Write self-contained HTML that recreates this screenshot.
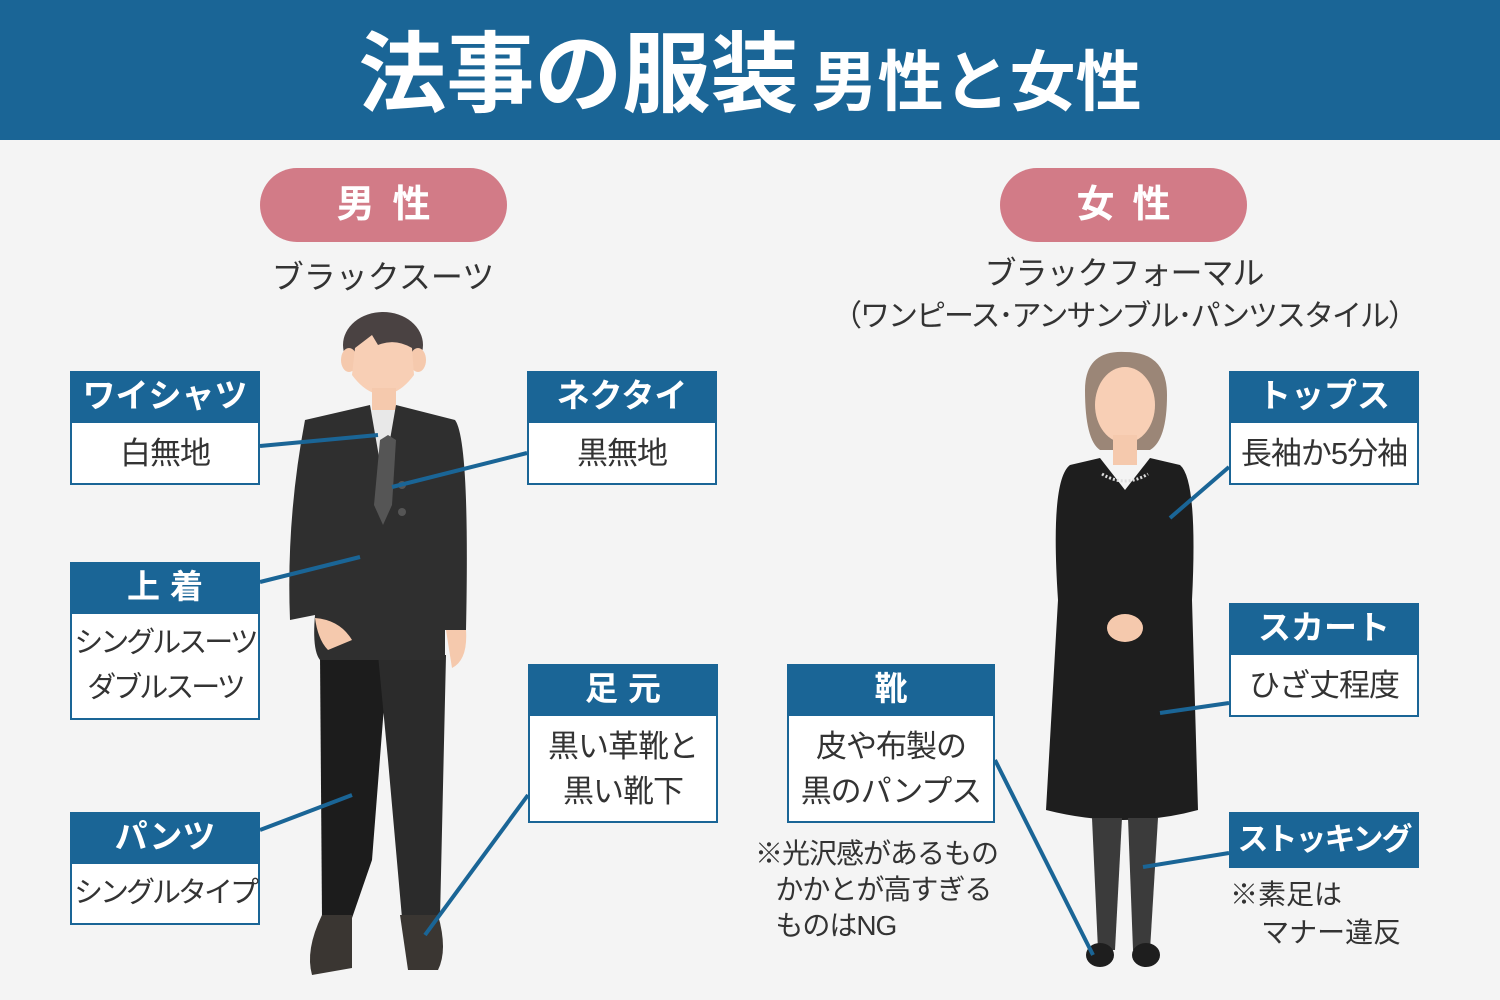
<!DOCTYPE html>
<html><head><meta charset="utf-8"><style>
body{margin:0;width:1500px;height:1000px;background:#f4f4f4;position:relative;overflow:hidden;font-family:"Liberation Sans","Noto Sans CJK JP",sans-serif;}
.hdr{position:absolute;left:0;top:0;width:1500px;height:140px;background:#1a6596;}
.title{position:absolute;left:0;top:4px;width:1500px;text-align:center;color:#fff;font-weight:bold;white-space:nowrap}
.pill{position:absolute;width:247px;height:74px;border-radius:37px;background:#d27b87;color:#fff;font-size:38px;font-weight:bold;text-align:center;line-height:74px;letter-spacing:18px;text-indent:18px}
.t{position:absolute;color:#333;text-align:center;white-space:nowrap}
.bh{position:absolute;background:#1a6596;color:#fff;font-weight:bold;font-size:33px;text-align:center;width:190px;height:50px;line-height:50px;white-space:nowrap}
.bb{position:absolute;background:#fff;border:2px solid #1a6596;box-sizing:border-box;width:190px;color:#333;font-size:31px;text-align:center;line-height:45px;display:flex;flex-direction:column;justify-content:center;white-space:nowrap;letter-spacing:-1px}
</style></head><body>
<div class="hdr"></div>
<div class="title"><span style="font-size:88px">法事の服装</span>&nbsp;&nbsp;&nbsp;<span style="font-size:66px">男性と女性</span></div>
<div class="pill" style="left:260px;top:168px">男性</div>
<div class="pill" style="left:1000px;top:168px">女性</div>
<div class="t" style="left:183px;width:400px;top:252px;font-size:32px">ブラックスーツ</div>
<div class="t" style="left:824px;width:600px;top:252px;font-size:32px;line-height:42px;letter-spacing:-1px">ブラックフォーマル<br><span style="font-size:30px;letter-spacing:-2px">（ワンピース･アンサンブル･パンツスタイル）</span></div>

<svg width="1500" height="1000" style="position:absolute;left:0;top:0">
<ellipse cx="383" cy="345" rx="40" ry="33" fill="#4a4242"/>
<ellipse cx="349" cy="360" rx="8" ry="12" fill="#f5c9ad"/>
<ellipse cx="418" cy="360" rx="8" ry="12" fill="#f5c9ad"/>
<path d="M355 348 L372 335 L378 345 Q395 338 412 348 L414 375 Q400 394 383 395 Q366 394 352 375Z" fill="#f8cfb5"/>
<rect x="372" y="388" width="24" height="25" fill="#f5c9ad"/>
<path d="M368 410 L400 410 L410 470 L358 470Z" fill="#e8e8e8"/>
<path d="M320 655 L388 655 L372 860 L352 918 L322 918Z" fill="#1c1c1c"/>
<path d="M378 655 L446 655 L440 918 L402 918 L388 760Z" fill="#2b2b2b"/>
<path d="M322 915 L352 915 L352 968 L312 975 Q305 950 322 915Z" fill="#3a3632"/>
<path d="M400 915 L438 915 Q448 950 438 970 L408 970 Z" fill="#3a3632"/>
<path d="M305 420 L370 405 L383 480 L396 405 L455 420 Q470 440 466 630 L445 630 L445 660 L320 660 Q312 650 315 615 L290 620 Q286 520 305 420Z" fill="#2f2f2f"/>
<path d="M380 440 L388 435 L396 440 L392 505 L383 525 L374 505Z" fill="#555"/>
<circle cx="402" cy="485" r="4" fill="#555"/><circle cx="402" cy="512" r="4" fill="#555"/>
<path d="M315 618 Q340 620 352 640 L328 650 Q318 640 315 618Z" fill="#f5c9ad"/>
<path d="M446 630 L466 630 Q468 660 452 668 Z" fill="#f5c9ad"/>
<path d="M1085 390 Q1085 350 1125 352 Q1167 352 1167 395 Q1167 440 1150 450 L1100 450 Q1085 440 1085 390Z" fill="#9b8677"/>
<ellipse cx="1125" cy="405" rx="30" ry="38" fill="#f8cfb5"/>
<rect x="1113" y="435" width="24" height="30" fill="#f5c9ad"/>
<path d="M1070 465 L1100 458 L1125 490 L1150 458 L1180 465 Q1198 480 1192 600 L1198 810 Q1125 830 1046 810 L1058 600 Q1050 480 1070 465Z" fill="#1e1e1e"/>
<path d="M1102 474 Q1125 488 1148 474" stroke="#ddd" stroke-width="3" fill="none" stroke-dasharray="2 2"/>
<ellipse cx="1125" cy="628" rx="18" ry="14" fill="#f5c9ad"/>
<path d="M1092 818 L1122 818 L1115 950 L1098 950Z" fill="#3b3b3b"/>
<path d="M1128 818 L1158 818 L1150 950 L1133 950Z" fill="#3b3b3b"/>
<ellipse cx="1100" cy="955" rx="14" ry="12" fill="#1e1e1e"/>
<ellipse cx="1146" cy="955" rx="14" ry="12" fill="#1e1e1e"/>
<g stroke="#1a6596" stroke-width="4">
<line x1="260" y1="446" x2="378" y2="435"/>
<line x1="527" y1="453" x2="392" y2="487"/>
<line x1="260" y1="582" x2="360" y2="557"/>
<line x1="260" y1="830" x2="352" y2="795"/>
<line x1="528" y1="795" x2="425" y2="935"/>
<line x1="995" y1="760" x2="1093" y2="955"/>
<line x1="1229" y1="467" x2="1170" y2="518"/>
<line x1="1229" y1="703" x2="1160" y2="713"/>
<line x1="1229" y1="853" x2="1143" y2="867"/>
</g>
</svg>

<div class="bh" style="left:70px;top:371px">ワイシャツ</div><div class="bb" style="left:70px;top:421px;height:64px">白無地</div>
<div class="bh" style="left:527px;top:371px">ネクタイ</div><div class="bb" style="left:527px;top:421px;height:64px">黒無地</div>
<div class="bh" style="left:70px;top:562px;letter-spacing:10px;text-indent:10px">上着</div><div class="bb" style="left:70px;top:612px;height:108px;font-size:29px;letter-spacing:-3px">シングルスーツ<br>ダブルスーツ</div>
<div class="bh" style="left:70px;top:812px">パンツ</div><div class="bb" style="left:70px;top:862px;height:63px;font-size:29px;letter-spacing:-3px">シングルタイプ</div>
<div class="bh" style="left:528px;top:664px;letter-spacing:10px;text-indent:10px">足元</div><div class="bb" style="left:528px;top:714px;height:109px">黒い革靴と<br>黒い靴下</div>
<div class="bh" style="left:787px;top:664px;width:208px">靴</div><div class="bb" style="left:787px;top:714px;height:109px;width:208px">皮や布製の<br>黒のパンプス</div>
<div class="t" style="left:755px;top:836px;font-size:28px;line-height:36px;text-align:left;letter-spacing:-1px">※光沢感があるもの<br>&nbsp;&nbsp;&nbsp;かかとが高すぎる<br>&nbsp;&nbsp;&nbsp;ものはNG</div>
<div class="bh" style="left:1229px;top:371px">トップス</div><div class="bb" style="left:1229px;top:421px;height:64px">長袖か5分袖</div>
<div class="bh" style="left:1229px;top:603px">スカート</div><div class="bb" style="left:1229px;top:653px;height:64px">ひざ丈程度</div>
<div class="bh" style="left:1229px;top:812px;height:56px;line-height:56px;font-size:31px;letter-spacing:-2px">ストッキング</div>
<div class="t" style="left:1230px;top:876px;font-size:28px;line-height:38px;text-align:left">※素足は<br>&nbsp;&nbsp;&nbsp;&nbsp;マナー違反</div>
</body></html>
